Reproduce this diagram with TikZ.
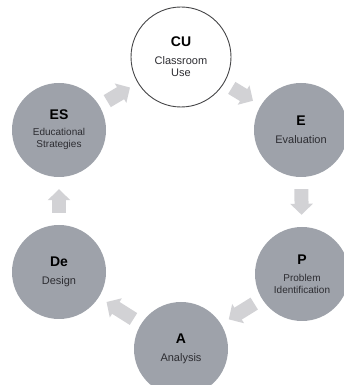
\documentclass[tikz,border=0pt]{standalone}
\usepackage{fontspec}
\setmainfont{Liberation Sans}
\usetikzlibrary{arrows.meta}
\definecolor{circgray}{RGB}{158,162,170}
\definecolor{arrowgray}{RGB}{210,210,213}
\definecolor{rimgray}{RGB}{70,70,72}
\definecolor{subtext}{RGB}{45,45,50}
\tikzset{
  stage/.style={circle, minimum size=94pt, inner sep=0pt, fill=circgray, align=center, text=black},
  startstage/.style={stage, fill=white, draw=rimgray, line width=0.9pt, minimum size=100pt},
  blockarrow/.style={draw=arrowgray, line width=14pt, line cap=butt,
     -{Triangle[length=11pt, width=22pt, fill=arrowgray]}},
  diag/.style={shorten <=9pt, shorten >=9pt},
  vert/.style={shorten <=12pt, shorten >=12pt},
}
\newcommand{\stagetitle}{\fontsize{14}{15}\selectfont\bfseries}
\newcommand{\stagesub}{\fontsize{10}{12.5}\selectfont\color{subtext}}
\newcommand{\stagesubL}{\fontsize{11}{13}\selectfont\color{subtext}}
\begin{document}
\begin{tikzpicture}[x=1pt,y=1pt]
\useasboundingbox (0,0) rectangle (343,385);
\node[startstage] (CU) at (181,328) {{\stagetitle CU}\\[6pt]{\stagesubL Classroom}\\{\stagesubL Use}};
\node[stage] (ES) at (59,255) {{\stagetitle ES}\\[4pt]{\stagesub Educational}\\{\stagesub Strategies}};
\node[stage] (E) at (301,255) {{\stagetitle E}\\[6pt]{\stagesubL Evaluation}};
\node[stage] (De) at (59,113) {{\stagetitle De}\\[6pt]{\stagesubL Design}};
\node[stage] (P) at (302,111) {{\stagetitle P}\\[5pt]{\stagesub Problem}\\{\stagesub Identification}};
\node[stage] (A) at (181,36) {{\stagetitle A}\\[6pt]{\stagesubL Analysis}};
\draw[blockarrow, diag] (ES) -- (CU);
\draw[blockarrow, diag] (CU) -- (E);
\draw[blockarrow, vert] (E) -- (P);
\draw[blockarrow, diag] (P) -- (A);
\draw[blockarrow, diag] (A) -- (De);
\draw[blockarrow, vert] (De) -- (ES);
\end{tikzpicture}
\end{document}
